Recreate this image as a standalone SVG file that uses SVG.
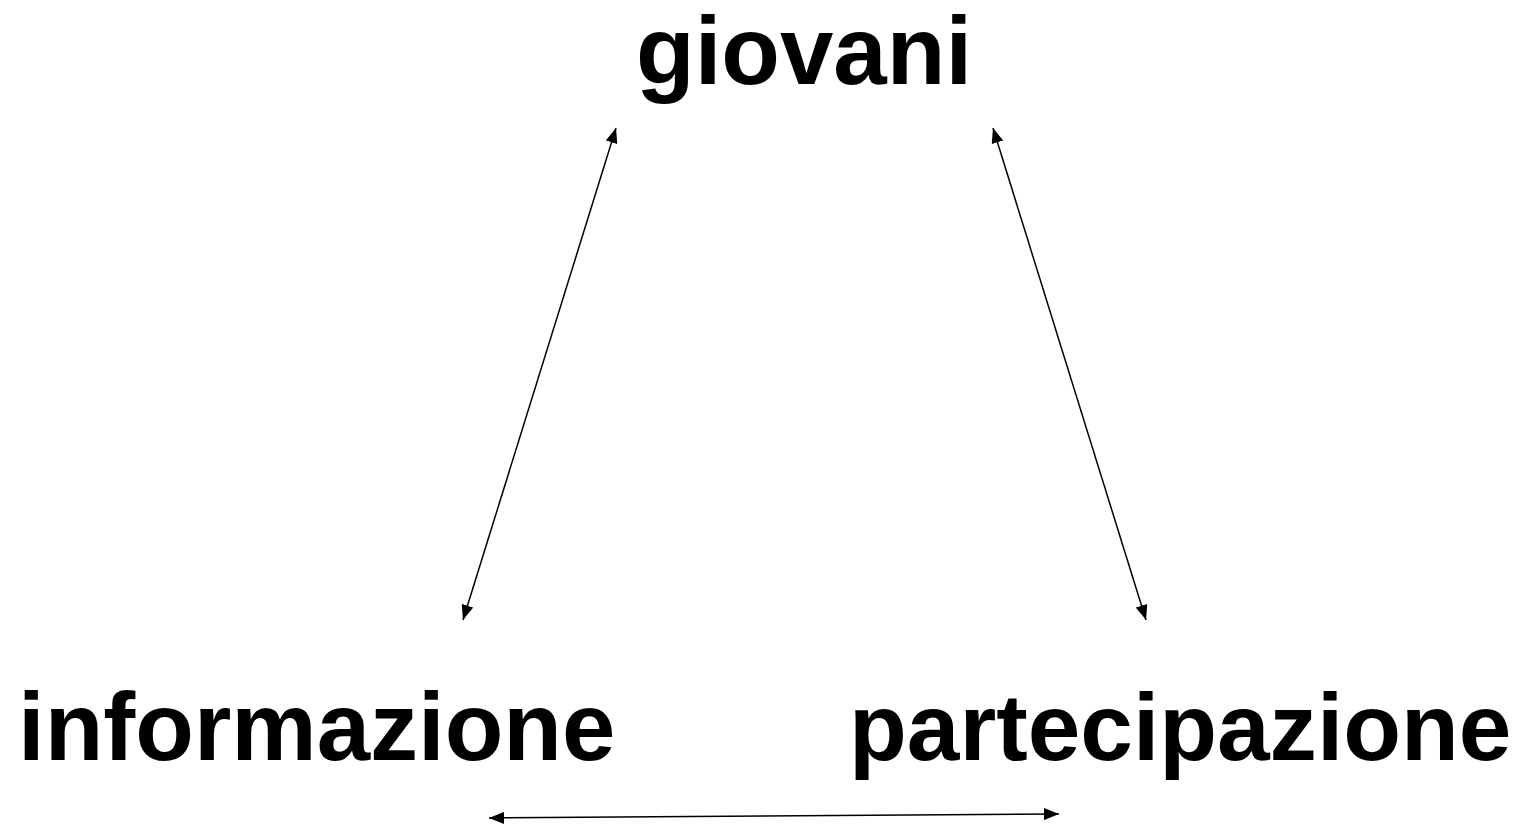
<svg xmlns="http://www.w3.org/2000/svg" width="1528" height="824" viewBox="0 0 1528 824">
<style>
.lbl{font-family:"Liberation Sans",Arial,sans-serif;font-weight:bold;font-size:96px;fill:#000}
.con{stroke:#000;stroke-width:1.5;fill:none}
</style>
<defs>
<marker id="ah2" viewBox="0 0 15 12" refX="15" refY="6" markerWidth="15" markerHeight="12" markerUnits="userSpaceOnUse" orient="auto-start-reverse"><path d="M0,0 L15,6 L0,12 z" fill="#000"/></marker>
</defs>
<rect width="1528" height="824" fill="#fff"/>
<g id="giovani"><text class="lbl" x="636" y="84">giovani</text></g>
<g id="informazione"><text class="lbl" x="18" y="760">informazione</text></g>
<g id="partecipazione"><text class="lbl" x="849" y="760" style="font-size:94.6px">partecipazione</text></g>
<g id="connectors">
<line class="con" x1="616" y1="128" x2="463" y2="620" marker-start="url(#ah2)" marker-end="url(#ah2)"/>
<line class="con" x1="993" y1="128" x2="1146" y2="620" marker-start="url(#ah2)" marker-end="url(#ah2)"/>
<line class="con" x1="489" y1="818" x2="1059" y2="814" marker-start="url(#ah2)" marker-end="url(#ah2)"/>
</g>
</svg>
